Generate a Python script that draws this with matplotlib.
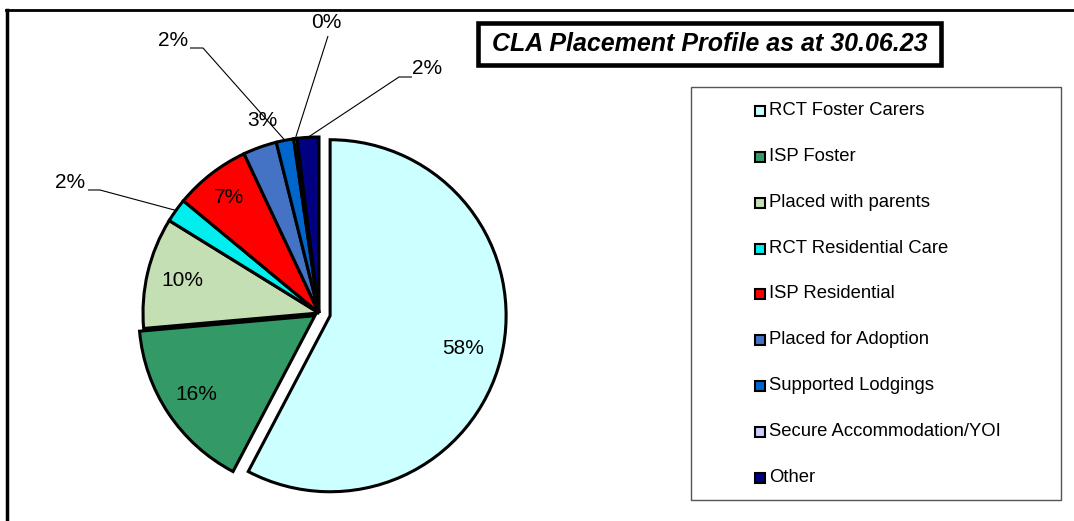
import numpy as np
import matplotlib
matplotlib.use("Agg")
import matplotlib.pyplot as plt
from matplotlib.patches import Rectangle

# ---- data ----
categories = ["RCT Foster Carers", "ISP Foster", "Placed with parents",
              "RCT Residential Care", "ISP Residential", "Placed for Adoption",
              "Supported Lodgings", "Secure Accommodation/YOI", "Other"]
values = [57.7, 15.9, 10.2, 2.2, 7.0, 3.1, 1.6, 0.3, 2.0]
colors = ["#CCFFFF", "#339966", "#C4DFB4", "#00EEEE", "#FF0000",
          "#4472C4", "#0066CC", "#CCCCFF", "#000080"]
title = "CLA Placement Profile as at 30.06.23"

plt.rcParams['font.family'] = ['Liberation Sans', 'DejaVu Sans']

W, H = 1074, 521
fig = plt.figure(figsize=(W / 100, H / 100), dpi=100)
ax = fig.add_axes([0, 0, 1, 1])

def Y(y):
    return H - y

# pie geometry (pixel coords)
cx, cy, R = 319, 313, 176
explode = [0.065, 0.028, 0, 0, 0, 0, 0, 0, 0]
wedges, _ = ax.pie(values, colors=colors, startangle=90, counterclock=False,
                   center=(cx, Y(cy)), radius=R, explode=[e * R for e in explode],
                   wedgeprops=dict(edgecolor="black", linewidth=2.2))
labels = [f"{round(v):.0f}%" for v in values]

def point(w, frac):
    ang = np.deg2rad((w.theta1 + w.theta2) / 2)
    x0, y0 = w.center
    return x0 + frac * w.r * np.cos(ang), y0 + frac * w.r * np.sin(ang)

LFS = 15
# inside labels
inside = {0: 0.78, 1: 0.81, 2: 0.80, 4: 0.83}
for i, f in inside.items():
    x, y = point(wedges[i], f)
    ax.text(x, y, labels[i], ha="center", va="center", fontsize=LFS)

# outside labels (image positions) with leader paths
outside = {
    3: ((70, 183), [(88, 190), (100, 190)]),
    5: ((262, 121), None),
    6: ((173, 40), [(190, 48), (203, 48)]),
    7: ((326, 22), [(328, 36)]),
    8: ((427, 68), [(412, 77), (399, 77)]),
}
for i, (pos, path) in outside.items():
    ax.text(pos[0], Y(pos[1]), labels[i], ha="center", va="center", fontsize=LFS)
    if path:
        ex, ey = point(wedges[i], 1.0)
        xs = [p[0] for p in path] + [ex]
        ys = [Y(p[1]) for p in path] + [ey]
        ax.plot(xs, ys, color="black", lw=0.8, solid_capstyle="butt")

# title box
ax.add_patch(Rectangle((478, Y(65)), 941 - 478, 65 - 23, facecolor="white",
                       edgecolor="black", lw=3.3, zorder=5))
ax.text((478 + 941) / 2, Y(44), title, ha="center", va="center", fontsize=18,
        fontweight="bold", fontstyle="italic", zorder=6)

# legend box
ax.add_patch(Rectangle((691, Y(500)), 1061 - 691, 500 - 87, facecolor="white",
                       edgecolor="#555555", lw=1.0, zorder=5))
row0, step = 110.7, 45.8
for k, (lab, col) in enumerate(zip(categories, colors)):
    yy = row0 + k * step
    ax.add_patch(Rectangle((755, Y(yy + 5.5)), 10, 10, facecolor=col,
                           edgecolor="black", lw=1.5, zorder=6))
    ax.text(769, Y(yy), lab, ha="left", va="center", fontsize=13.3, zorder=6)

# outer border lines
ax.plot([6, W], [Y(10), Y(10)], color="black", lw=2.0)
ax.plot([7, 7], [Y(10), 0], color="black", lw=2.5)

ax.set_xlim(0, W)
ax.set_ylim(0, H)
ax.set_aspect("auto")
ax.axis("off")

fig.savefig("out.png", dpi=100)
